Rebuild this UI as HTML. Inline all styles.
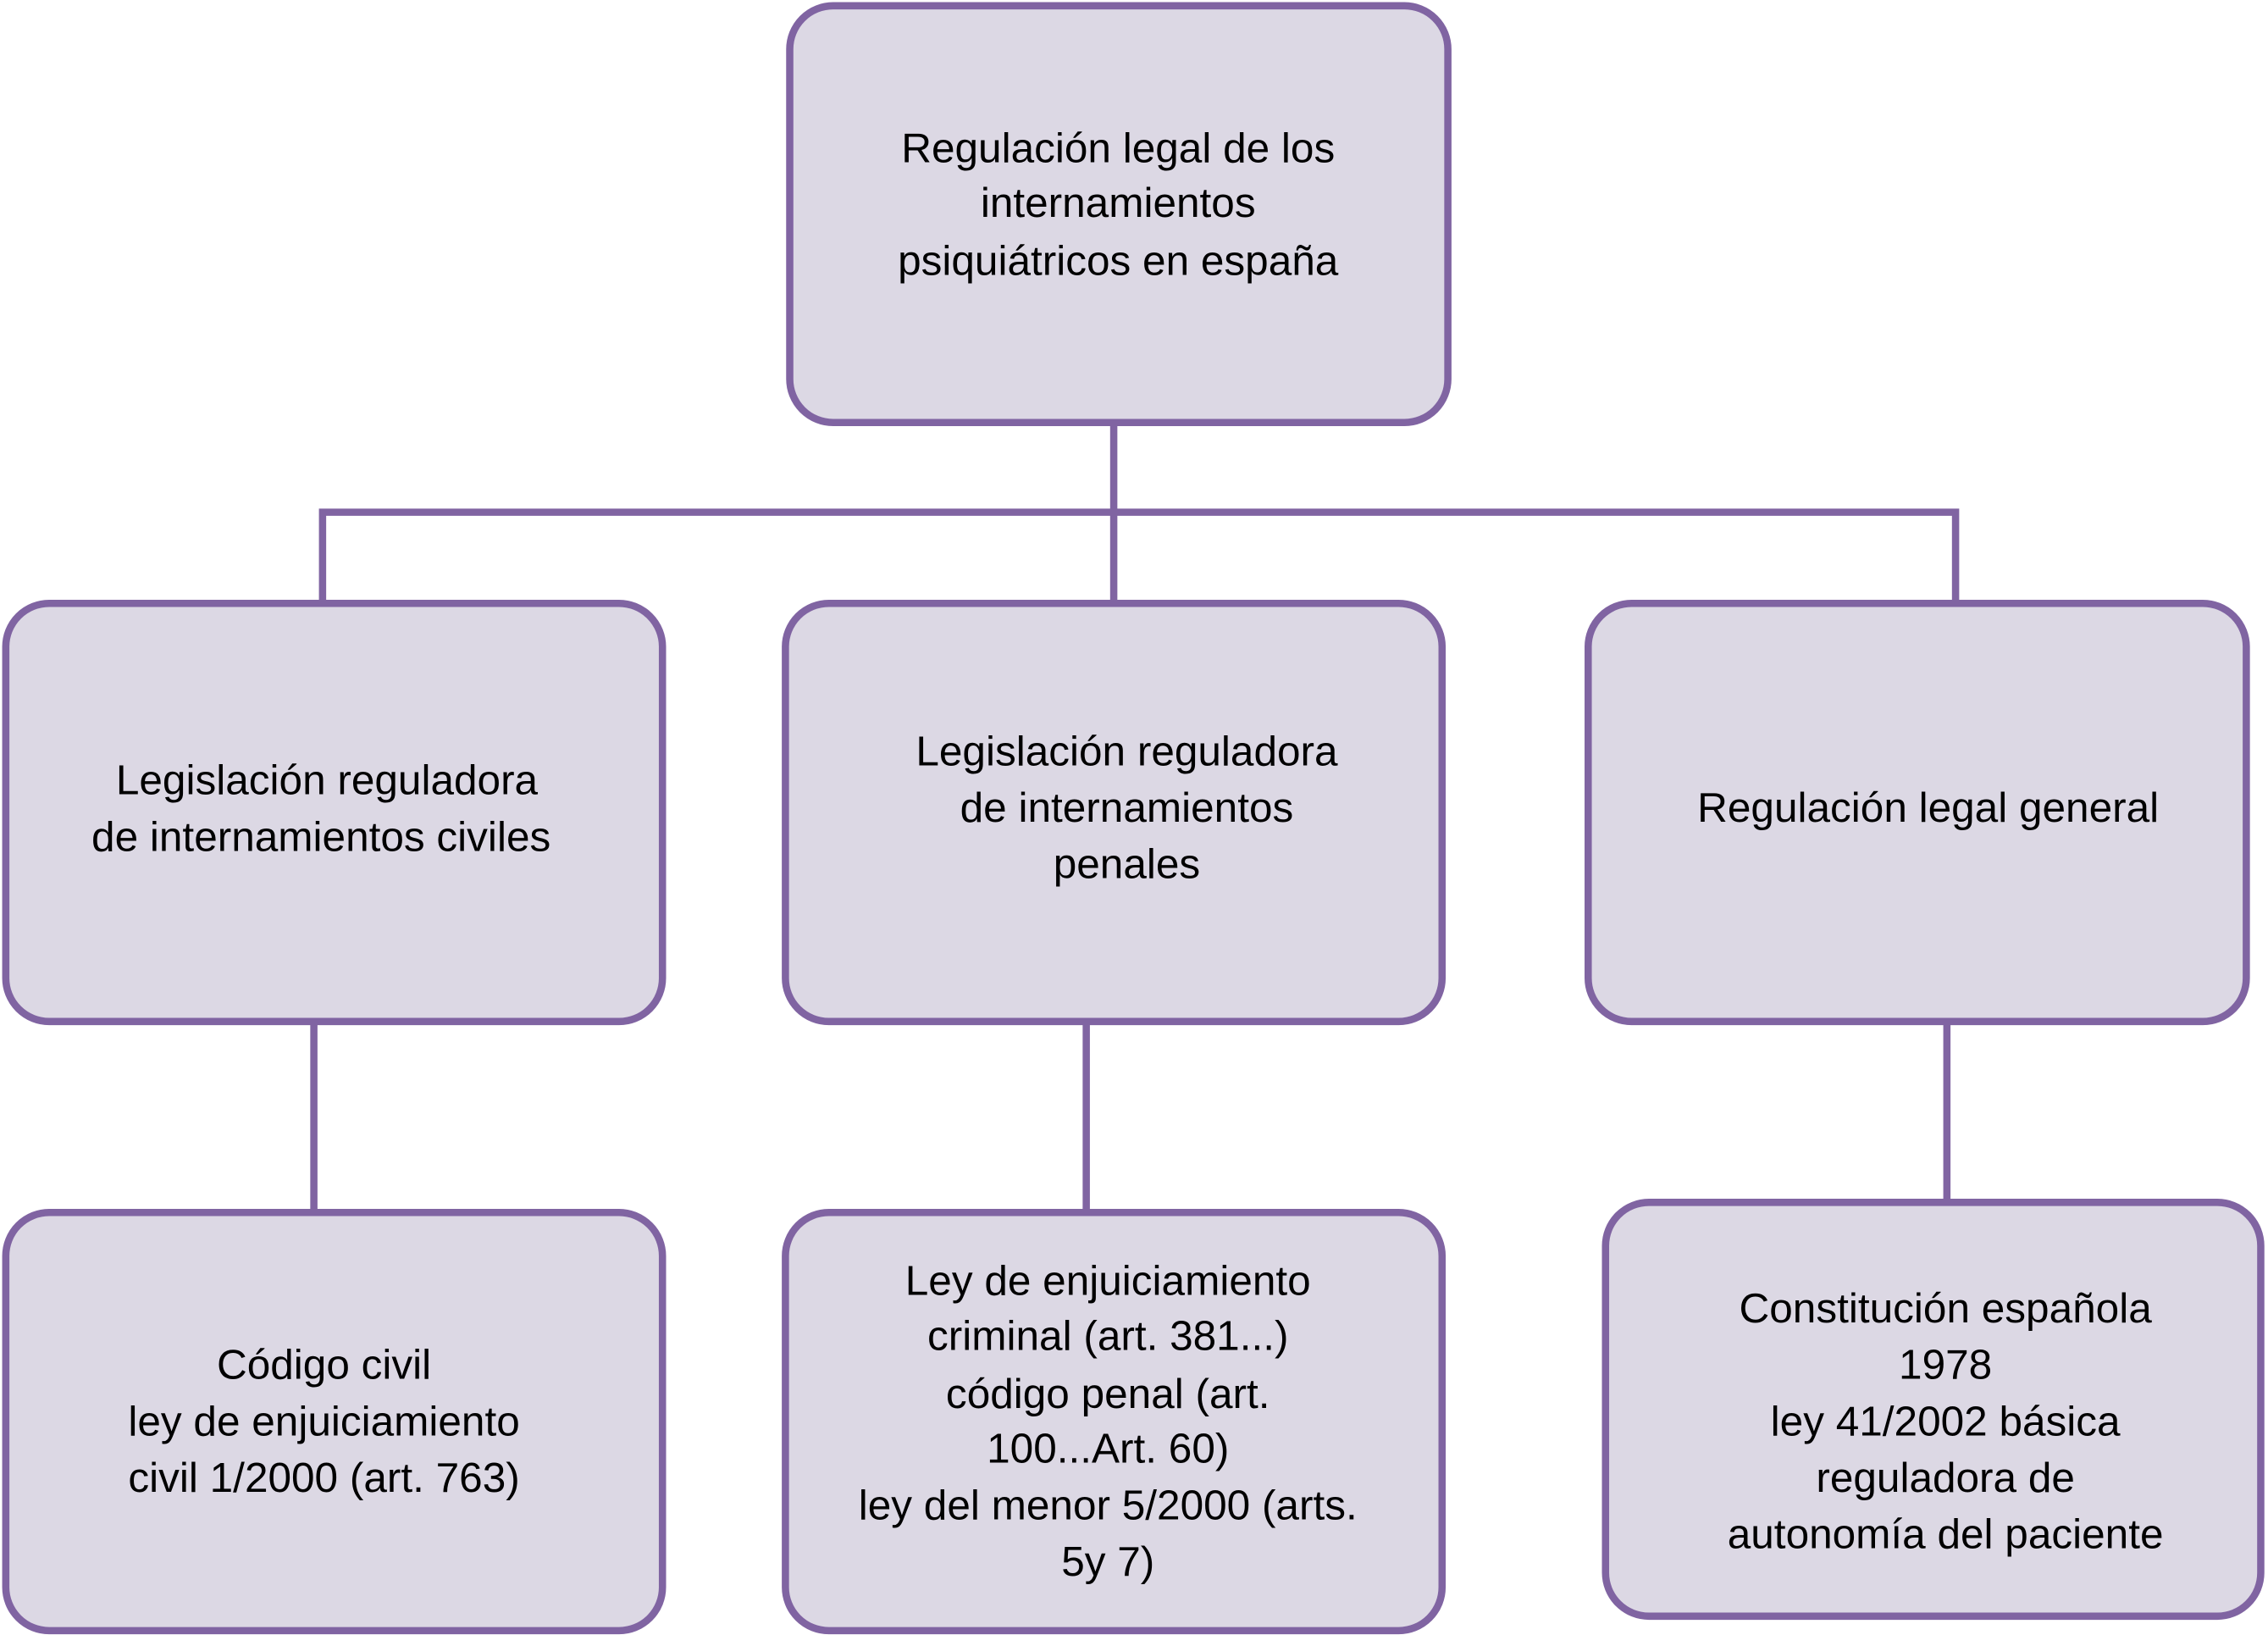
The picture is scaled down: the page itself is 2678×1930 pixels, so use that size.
<!DOCTYPE html>
<html><head><meta charset="utf-8"><style>
html,body{margin:0;padding:0;background:#fff;}
svg{display:block;}
text{font-family:"Liberation Sans",Arial,sans-serif;font-size:29px;fill:#000;text-anchor:middle;}
</style></head><body>
<svg width="2678" height="1930" viewBox="0 0 1568 1130" preserveAspectRatio="none">
<g fill="none" stroke="#8064a2" stroke-width="5">
<line x1="770" y1="292" x2="770" y2="415"/>
<polyline points="223,415 223,354 1352,354 1352,415"/>
<line x1="217" y1="706" x2="217" y2="838"/>
<line x1="751" y1="706" x2="751" y2="838"/>
<line x1="1346" y1="706" x2="1346" y2="831"/>
</g>
<g fill="#dcd8e4" stroke="#8064a2" stroke-width="5">
<rect x="546" y="4" width="455" height="288" rx="30"/>
<rect x="4" y="417" width="454" height="289" rx="30"/>
<rect x="543" y="417" width="454" height="289" rx="30"/>
<rect x="1098" y="417" width="455" height="289" rx="30"/>
<rect x="4" y="838" width="454" height="289" rx="30"/>
<rect x="543" y="838" width="454" height="289" rx="30"/>
<rect x="1110" y="831" width="453" height="286" rx="30"/>
</g>
<text x="773" y="112">Regulación legal de los</text>
<text x="773" y="150">internamientos</text>
<text x="773" y="190">psiquiátricos en españa</text>
<text x="226" y="549">Legislación reguladora</text>
<text x="222" y="588">de internamientos civiles</text>
<text x="779" y="529">Legislación reguladora</text>
<text x="779" y="568">de internamientos</text>
<text x="779" y="607">penales</text>
<text x="1333" y="568">Regulación legal general</text>
<text x="224" y="953">Código civil</text>
<text x="224" y="992">ley de enjuiciamiento</text>
<text x="224" y="1031">civil  1/2000 (art. 763)</text>
<text x="766" y="895">Ley de enjuiciamiento</text>
<text x="766" y="933">criminal (art. 381...)</text>
<text x="766" y="973">código penal (art.</text>
<text x="766" y="1011">100...Art. 60)</text>
<text x="766" y="1050">ley del menor 5/2000 (arts.</text>
<text x="766" y="1089">5y 7)</text>
<text x="1345" y="914">Constitución española</text>
<text x="1345" y="953">1978</text>
<text x="1345" y="992">ley 41/2002 básica</text>
<text x="1345" y="1031">reguladora de</text>
<text x="1345" y="1070">autonomía del paciente</text>
</svg>
</body></html>
